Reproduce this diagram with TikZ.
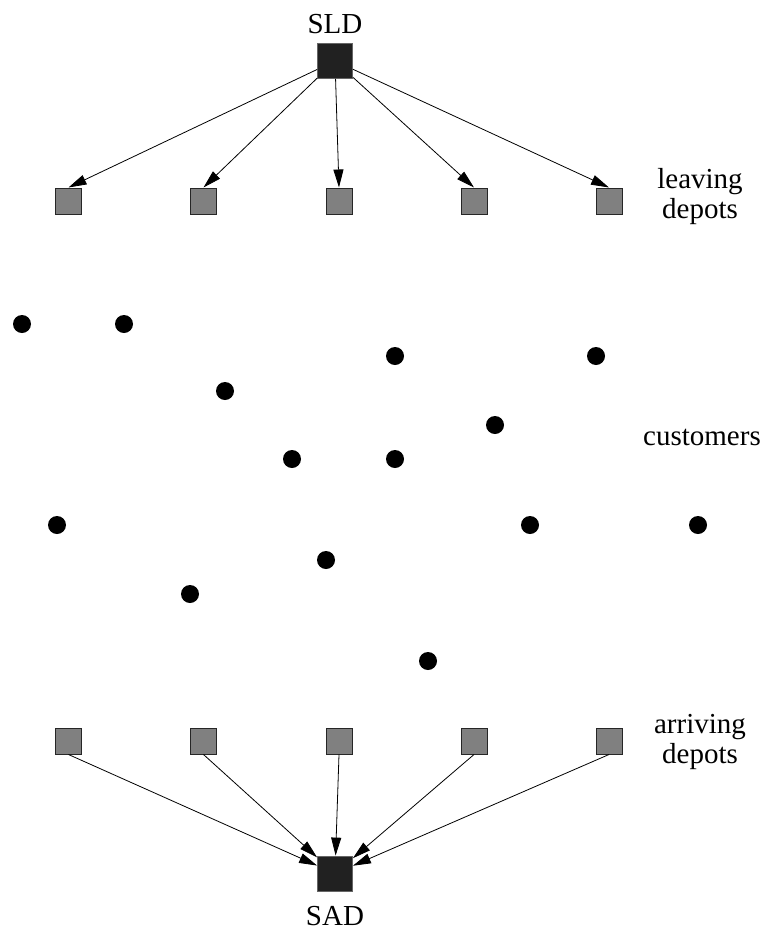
\documentclass[tikz,border=0pt]{standalone}
\usepackage{fontspec}
\setmainfont{Liberation Serif}
\usetikzlibrary{arrows.meta}
\begin{document}
\begin{tikzpicture}[x=1pt,y=-1pt,
  big/.style={draw=black!60,fill=black!87,minimum size=35pt,inner sep=0pt,line width=0.8pt},
  dep/.style={draw=black!85,fill=black!50,minimum size=26pt,inner sep=0pt,line width=1pt},
  cust/.style={circle,fill=black,minimum size=18pt,inner sep=0pt},
  lab/.style={font=\fontsize{29}{32}\selectfont,inner sep=0pt,align=center},
  arr/.style={-{Triangle[length=18pt,width=10pt]},line width=0.8pt}]
\useasboundingbox (0,0) rectangle (765,932);
\node[big] (sld) at (335,61) {};
\node[lab,anchor=base] (sldt) at (335,33) {SLD};
\node[big] (sad) at (335,873.5) {};
\node[lab,anchor=base] (sadt) at (335,925) {SAD};
\foreach \i/\x in {1/68.5,2/203.5,3/339,4/474,5/609}{
  \node[dep] (l\i) at (\x,201) {};
  \node[dep] (a\i) at (\x,741) {};
  \draw[arr] (sld) -- (l\i.north);
  \draw[arr] (a\i.south) -- (sad);
}
\foreach \n/\x/\y in {1/22/324,2/124/324,3/225/391,4/395/356,5/596/356,6/495/425,7/292/459,8/395/459,9/57/525,10/530/525,11/698/525,12/326/560,13/190/594,14/428/661}{
  \node[cust] (c\n) at (\x,\y) {};
}
\node[lab] (ld) at (700,197) {leaving\\[-2pt]depots};
\node[lab] (cu) at (702,437) {customers};
\node[lab] (ad) at (700,742) {arriving\\[-2pt]depots};
\end{tikzpicture}
\end{document}
